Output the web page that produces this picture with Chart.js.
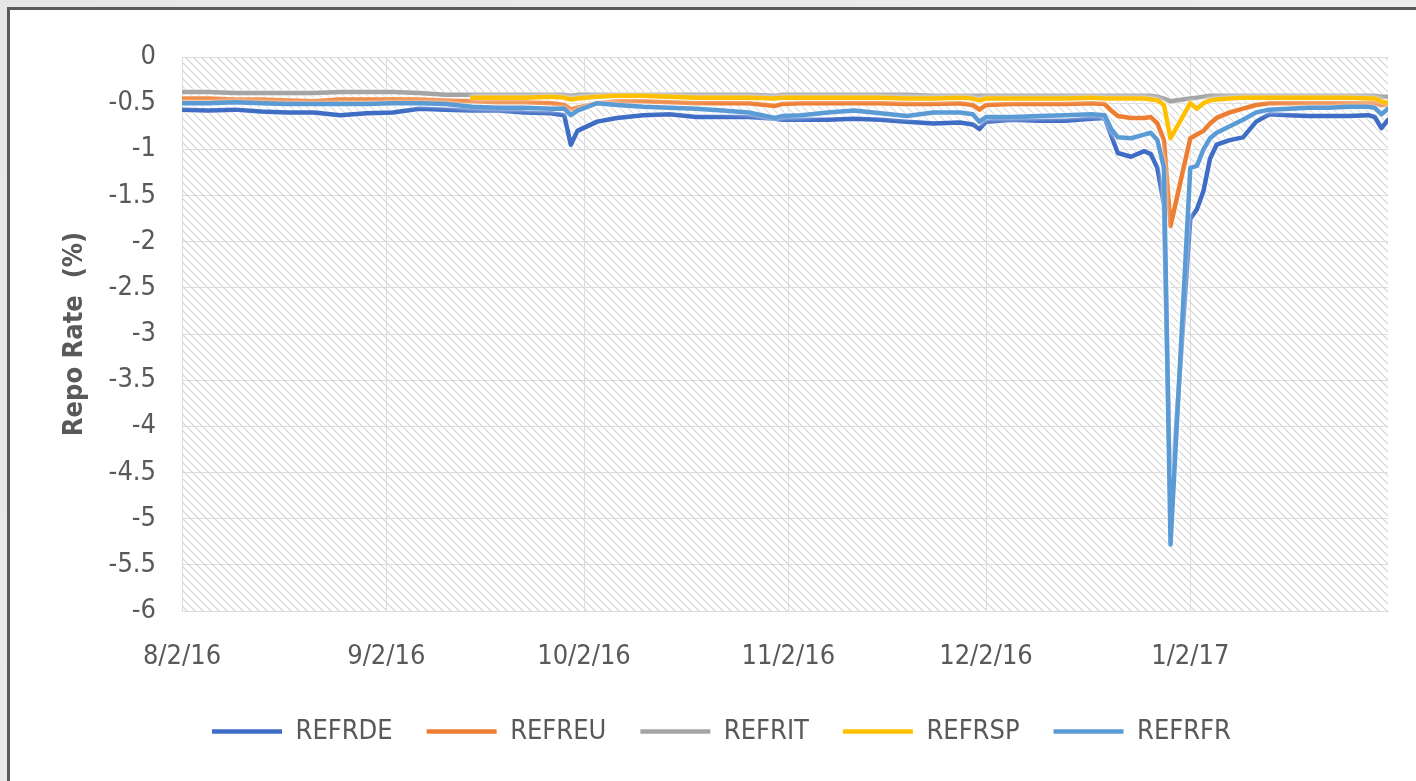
<!DOCTYPE html>
<html>
<head>
<meta charset="utf-8">
<script src="https://cdn.jsdelivr.net/npm/chart.js@4.4.1/dist/chart.umd.min.js"></script>
<style>
  html, body { margin: 0; padding: 0; }
  body {
    width: 1416px; height: 781px; overflow: hidden;
    background: linear-gradient(135deg, #e6e6e6, #f2f2f2);
    position: relative;
  }
  #frame {
    position: absolute; left: 7px; top: 7px;
    width: 1430px; height: 772px;
    border-left: 3px solid #5a5a5a; border-top: 3px solid #5a5a5a;
    border-bottom: 1px solid #d0d0d0;
    background: #fff;
  }
  #chart { position: absolute; left: 0; top: 0; }
</style>
</head>
<body>
<div id="frame"><canvas id="chart" width="1426" height="771"></canvas></div>
<script>
// days since 8/2/16
const days = [0,4,8,12,16,20,24,28,32,36,40,44,48,52,56,58,59,60,63,66,70,74,78,82,86,90,91,94,98,102,106,110,114,118,120,121,122,126,130,134,138,140,141,142,144,146,147,148,149,150,153,154,155,156,157,159,161,163,165,168,171,174,177,180,181,182,183];

const refrde = [-0.57,-0.58,-0.57,-0.59,-0.60,-0.60,-0.63,-0.61,-0.60,-0.56,
  -0.57,-0.58,-0.58,-0.60,-0.61,-0.63,-0.95,-0.80,-0.70,-0.66,
  -0.63,-0.62,-0.65,-0.65,-0.65,-0.67,-0.68,-0.68,-0.68,-0.67,
  -0.68,-0.70,-0.72,-0.71,-0.73,-0.78,-0.70,-0.68,-0.69,-0.69,
  -0.67,-0.66,-0.85,-1.04,-1.08,-1.02,-1.05,-1.20,-1.60,-4.90,
  -1.75,-1.65,-1.45,-1.10,-0.95,-0.90,-0.87,-0.70,-0.62,-0.63,
  -0.64,-0.64,-0.64,-0.63,-0.65,-0.77,-0.68];

const refreu = [-0.45,-0.45,-0.46,-0.46,-0.47,-0.48,-0.46,-0.46,-0.46,-0.46,
  -0.47,-0.48,-0.49,-0.49,-0.50,-0.52,-0.57,-0.55,-0.50,-0.48,
  -0.48,-0.49,-0.50,-0.50,-0.50,-0.53,-0.51,-0.50,-0.50,-0.50,
  -0.50,-0.51,-0.51,-0.50,-0.52,-0.57,-0.52,-0.51,-0.51,-0.51,
  -0.50,-0.51,-0.58,-0.64,-0.66,-0.66,-0.65,-0.72,-0.90,-1.83,
  -0.88,-0.84,-0.80,-0.72,-0.66,-0.60,-0.56,-0.52,-0.50,-0.50,
  -0.50,-0.50,-0.50,-0.50,-0.50,-0.52,-0.52];

const refrit = [-0.38,-0.38,-0.39,-0.39,-0.39,-0.39,-0.38,-0.38,-0.38,-0.39,
  -0.41,-0.41,-0.41,-0.41,-0.41,-0.41,-0.42,-0.41,-0.41,-0.41,
  -0.41,-0.41,-0.41,-0.41,-0.41,-0.42,-0.41,-0.41,-0.41,-0.41,
  -0.41,-0.41,-0.42,-0.42,-0.42,-0.42,-0.42,-0.42,-0.42,-0.42,
  -0.42,-0.42,-0.42,-0.42,-0.42,-0.42,-0.42,-0.43,-0.45,-0.48,
  -0.45,-0.44,-0.43,-0.42,-0.42,-0.42,-0.42,-0.42,-0.42,-0.42,
  -0.42,-0.42,-0.42,-0.42,-0.42,-0.43,-0.43];

const refrsp = [null,null,null,null,null,null,null,null,null,null,null,
  -0.44,-0.44,-0.44,-0.43,-0.44,-0.46,-0.45,-0.43,-0.42,
  -0.42,-0.43,-0.44,-0.44,-0.44,-0.45,-0.44,-0.44,-0.44,-0.44,
  -0.44,-0.45,-0.45,-0.44,-0.45,-0.47,-0.45,-0.45,-0.45,-0.45,
  -0.44,-0.45,-0.45,-0.45,-0.45,-0.45,-0.46,-0.47,-0.52,-0.88,
  -0.50,-0.56,-0.50,-0.47,-0.46,-0.45,-0.44,-0.44,-0.44,-0.44,
  -0.44,-0.44,-0.44,-0.45,-0.45,-0.48,-0.50];

const refrfr = [-0.50,-0.50,-0.49,-0.50,-0.51,-0.51,-0.51,-0.51,-0.50,-0.50,
  -0.51,-0.54,-0.55,-0.55,-0.56,-0.56,-0.63,-0.58,-0.50,-0.52,
  -0.54,-0.55,-0.56,-0.58,-0.60,-0.66,-0.64,-0.63,-0.60,-0.58,
  -0.61,-0.64,-0.60,-0.60,-0.62,-0.70,-0.65,-0.65,-0.64,-0.63,
  -0.62,-0.63,-0.78,-0.87,-0.88,-0.84,-0.82,-0.90,-1.20,-5.28,
  -1.20,-1.18,-1.00,-0.88,-0.82,-0.75,-0.68,-0.60,-0.57,-0.56,
  -0.55,-0.55,-0.54,-0.54,-0.55,-0.62,-0.56];

const monthDays = [0, 31, 61, 92, 122, 153];
const monthLabels = ["8/2/16", "9/2/16", "10/2/16", "11/2/16", "12/2/16", "1/2/17"];

const seriesNames = ["REFRDE", "REFREU", "REFRIT", "REFRSP", "REFRFR"];
const seriesColors = ["#3f6cc4", "#ed7d31", "#a5a5a5", "#ffc000", "#5b9bd5"];
const seriesValues = [refrde, refreu, refrit, refrsp, refrfr];

const FONT = "'Liberation Sans Narrow', 'DejaVu Sans Condensed', 'Arial Narrow', sans-serif";
const TEXT = "#595959";

// diagonal hatch for the plot area
const hatch = (() => {
  const c = document.createElement("canvas");
  c.width = 8; c.height = 8;
  const g = c.getContext("2d");
  g.fillStyle = "#ffffff";
  g.fillRect(0, 0, 8, 8);
  g.strokeStyle = "#d2d2d2";
  g.lineWidth = 1.1;
  g.beginPath();
  g.moveTo(-1, -1); g.lineTo(9, 9);
  g.moveTo(-1, 7); g.lineTo(1, 9);
  g.moveTo(7, -1); g.lineTo(9, 1);
  g.stroke();
  return g.createPattern(c, "repeat");
})();

const hatchPlugin = {
  id: "hatch",
  beforeDraw(chart) {
    const { ctx, chartArea: a } = chart;
    ctx.save();
    ctx.fillStyle = hatch;
    ctx.fillRect(a.left, a.top, a.right - a.left, a.bottom - a.top);
    ctx.restore();
  }
};

// white edge round every line, like the original
const glowPlugin = {
  id: "glow",
  beforeDatasetDraw(chart) {
    chart.ctx.save();
    chart.ctx.shadowColor = "rgba(255,255,255,1)";
    chart.ctx.shadowBlur = 4;
  },
  afterDatasetDraw(chart) {
    chart.ctx.restore();
  }
};

const datasets = seriesNames.map((name, i) => ({
  label: name,
  data: days.map((d, j) => ({ x: d, y: seriesValues[i][j] })),
  borderColor: seriesColors[i],
  backgroundColor: seriesColors[i],
  borderWidth: 4.5,
  pointRadius: 0,
  pointStyle: "line",
  tension: 0,
  borderJoinStyle: "round",
  borderCapStyle: "round",
  order: seriesNames.length - i
}));

new Chart(document.getElementById("chart"), {
  type: "line",
  data: { datasets },
  plugins: [hatchPlugin, glowPlugin],
  options: {
    responsive: false,
    animation: false,
    layout: { padding: { left: 45, right: 48, top: 47, bottom: 26 } },
    plugins: {
      legend: {
        position: "bottom",
        labels: {
          usePointStyle: true,
          pointStyleWidth: 70,
          boxHeight: 27,
          padding: 34,
          color: TEXT,
          font: { family: FONT, size: 27 },
          sort: (a, b) => a.datasetIndex - b.datasetIndex
        }
      },
      tooltip: { enabled: false }
    },
    scales: {
      x: {
        type: "linear",
        min: 0,
        max: 183,
        afterBuildTicks: (scale) => {
          scale.ticks = monthDays.map(v => ({ value: v }));
        },
        afterFit: (scale) => { scale.height = 73; },
        ticks: {
          autoSkip: false,
          maxRotation: 0,
          padding: 30,
          color: TEXT,
          font: { family: FONT, size: 27 },
          callback: (v) => monthLabels[monthDays.indexOf(v)]
        },
        grid: { color: "#dcdcdc", drawTicks: false },
        border: { color: "#dcdcdc" }
      },
      y: {
        min: -6,
        max: 0,
        afterFit: (scale) => { scale.width = 127; },
        ticks: {
          stepSize: 0.5,
          padding: 26,
          color: TEXT,
          font: { family: FONT, size: 27 },
          callback: (v) => (v === 0 ? "0" : String(v))
        },
        grid: { color: "#dcdcdc", drawTicks: false },
        border: { color: "#dcdcdc" },
        title: {
          display: true,
          text: "Repo Rate  (%)",
          color: TEXT,
          font: { family: FONT, size: 27, weight: "bold" },
          padding: { top: 4, bottom: 4 }
        }
      }
    }
  }
});
</script>
</body>
</html>
